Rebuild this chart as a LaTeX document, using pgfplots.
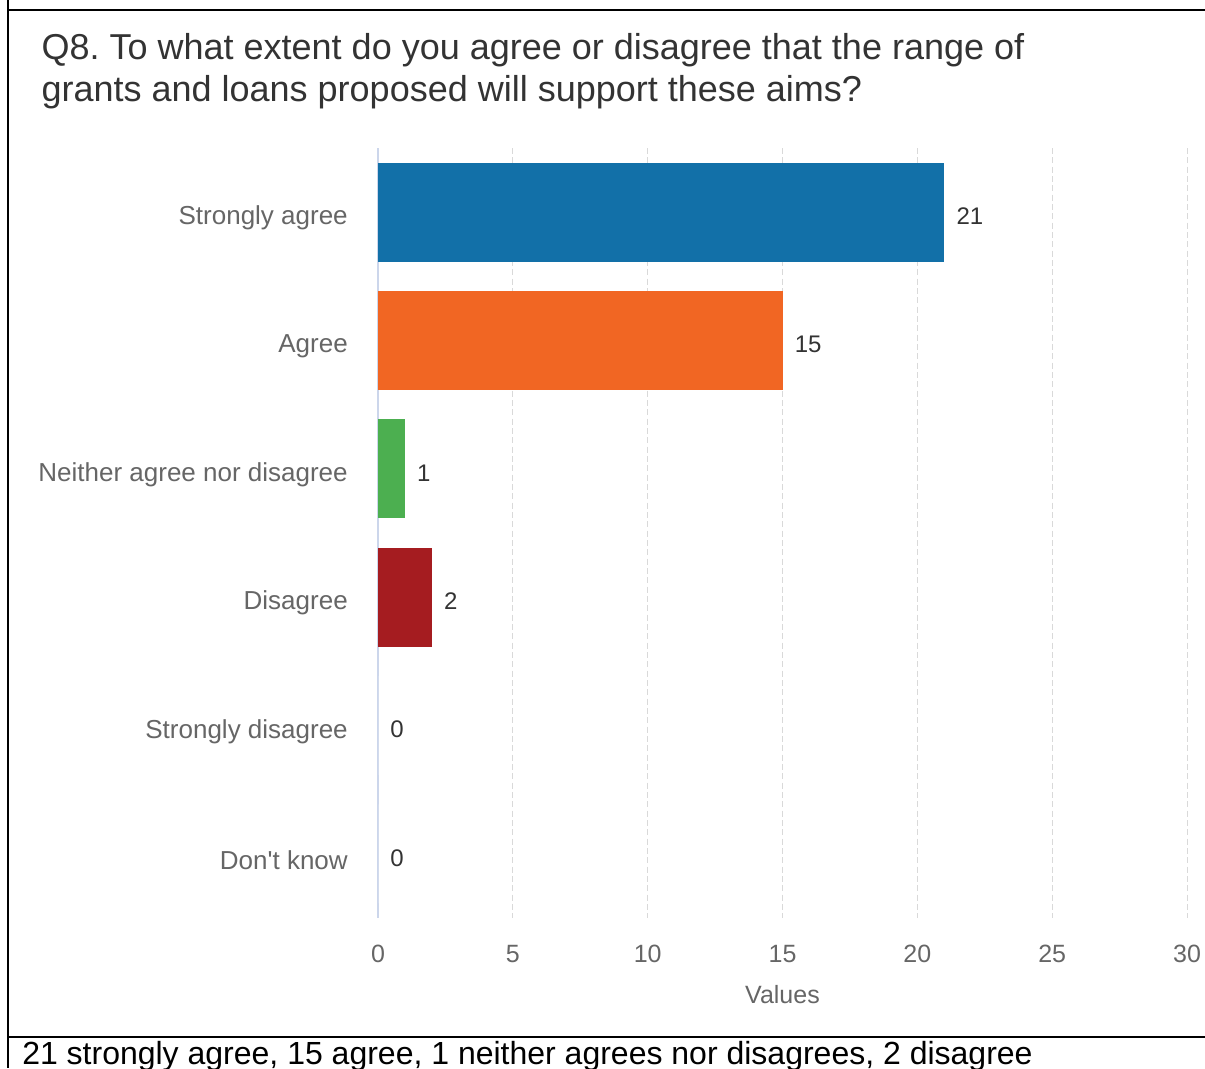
\documentclass[border=0pt]{standalone}
\usepackage{pgfplots}
\pgfplotsset{compat=1.18}
\usepackage{fontspec}
\setmainfont{Liberation Sans}
\frenchspacing
\definecolor{cblue}{HTML}{1270A8}
\definecolor{corange}{HTML}{F16623}
\definecolor{cgreen}{HTML}{4CAF50}
\definecolor{cred}{HTML}{A51C20}
\definecolor{lab}{HTML}{666666}
\definecolor{ttl}{HTML}{333333}
\definecolor{axl}{HTML}{CCD6EB}
\definecolor{grd}{HTML}{D9D9D9}
\begin{document}
\begin{tikzpicture}
\useasboundingbox (0,0) rectangle (903.75pt,801pt);
\clip (0,0) rectangle (903.75pt,801pt);
\fill[white] (0,0) rectangle (903.75pt,801pt);
% frame lines
\draw[black, line width=1.4pt] (6pt,801pt) -- (6pt,0pt);
\draw[black, line width=0.9pt] (6pt,793.5pt) -- (903.75pt,793.5pt);
\draw[black, line width=0.9pt] (6pt,23.25pt) -- (903.75pt,23.25pt);
\draw[black, line width=1.8pt] (6pt,793.5pt) -- (16.5pt,793.5pt);
\draw[black, line width=1.8pt] (6pt,23.25pt) -- (16.5pt,23.25pt);
% title
\node[anchor=base west, inner sep=0pt, text=ttl, font=\fontsize{27}{32}\selectfont] at (31pt,756pt) {Q8. To what extent do you agree or disagree that the range of};
\node[anchor=base west, inner sep=0pt, text=ttl, font=\fontsize{27}{32}\selectfont] at (31pt,725pt) {grants and loans proposed will support these aims?};
% bottom text
\node[anchor=base west, inner sep=0pt, text=black, font=\fontsize{24}{28}\selectfont] at (16.5pt,2.5pt) {21 strongly agree, 15 agree, 1 neither agrees nor disagrees, 2 disagree};
\begin{axis}[
  at={(283.5pt,112.5pt)}, anchor=south west,
  scale only axis, width=606.75pt, height=577.5pt,
  xmin=0, xmax=30, ymin=-0.5, ymax=5.5,
  y dir=reverse,
  enlargelimits=false,
  clip=false,
  xtick={0,5,...,30},
  ytick={0,1,2,3,4,5},
  yticklabels={Strongly agree,Agree,Neither agree nor disagree,Disagree,Strongly disagree,Don\textquotesingle{}t know},
  major tick length=0pt,
  axis y line*=left, axis x line*=bottom,
  x axis line style={draw=none},
  y axis line style={draw=axl, line width=1pt, -},
  xmajorgrids,
  major grid style={draw=grd, dash pattern=on 4.5pt off 2.5pt, line width=0.75pt},
  /pgf/number format/assume math mode=true,
  xticklabel style={text=lab, font=\fontsize{18.75}{22}\selectfont, anchor=north, inner sep=0pt, yshift=-20pt},
  yticklabel style={text=lab, font=\fontsize{19.5}{23}\selectfont, anchor=east, inner sep=0pt, xshift=-22.5pt, yshift=-4.5pt},
  xlabel={Values},
  xlabel style={at={(axis description cs:0.5,0)}, anchor=base, yshift=-63.75pt, text=lab, font=\fontsize{18.75}{22}\selectfont, inner sep=0pt},
  point meta=x,
  nodes near coords,
  nodes near coords align=horizontal,
  every node near coord/.append style={inner sep=0pt, xshift=9pt, yshift=-3pt, text=ttl, font=\fontsize{18}{21}\selectfont},
  bar width=74.25pt,
]
\addplot[xbar, bar shift=0pt, fill=cblue, draw=none] coordinates {(21,0)};
\addplot[xbar, bar shift=0pt, fill=corange, draw=none] coordinates {(15,1)};
\addplot[xbar, bar shift=0pt, fill=cgreen, draw=none] coordinates {(1,2)};
\addplot[xbar, bar shift=0pt, fill=cred, draw=none] coordinates {(2,3)};
\addplot[xbar, bar shift=0pt, fill=white, draw=none] coordinates {(0,4)};
\addplot[xbar, bar shift=0pt, fill=white, draw=none] coordinates {(0,5)};
\end{axis}
\end{tikzpicture}
\end{document}
